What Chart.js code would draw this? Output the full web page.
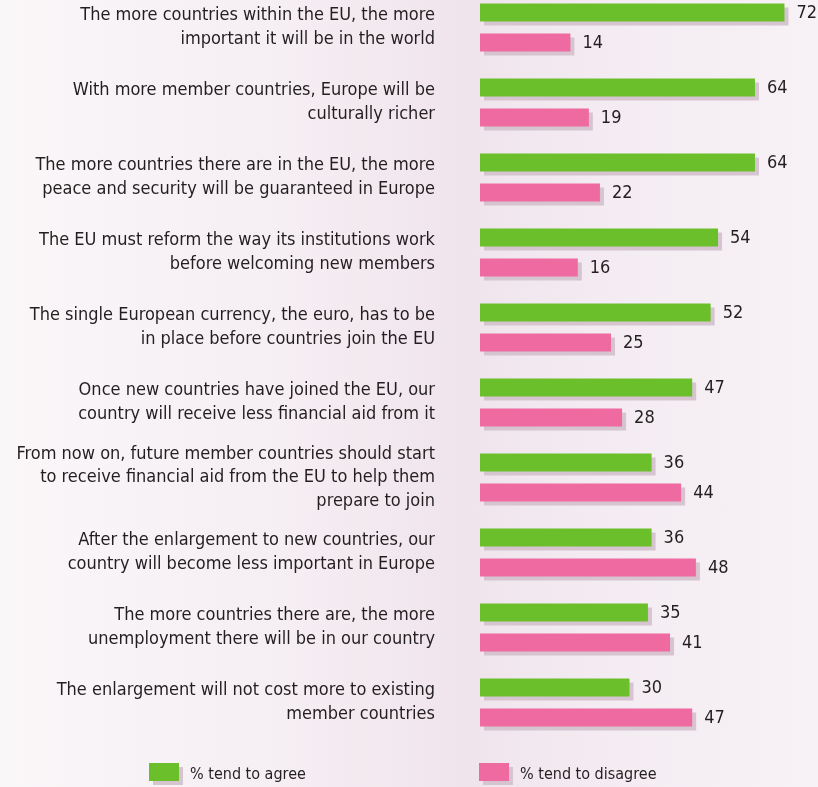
<!DOCTYPE html>
<html lang="en">
  <head>
    <meta charset="UTF-8" />
    <title>EU enlargement opinions</title>
    <script src="https://cdn.jsdelivr.net/npm/chart.js"></script>
    <style>
      html, body {
        margin: 0;
        padding: 0;
        width: 818px;
        height: 787px;
        overflow: hidden;
        background: linear-gradient(to right, #faf7f9 0%, #f5eef3 35%, #f0e4ec 57%, #f3ebf1 72%, #f7f2f6 100%);
      }
      .wrap {
        position: absolute;
        left: 0;
        top: -10px;
        width: 818px;
        height: 797px;
      }
    </style>
  </head>
  <body>
    <div class="wrap"><canvas id="barChart"></canvas></div>

    <script>
      const statements = [
        ["The more countries within the EU, the more", "important it will be in the world"],
        ["With more member countries, Europe will be", "culturally richer"],
        ["The more countries there are in the EU, the more", "peace and security will be guaranteed in Europe"],
        ["The EU must reform the way its institutions work", "before welcoming new members"],
        ["The single European currency, the euro, has to be", "in place before countries join the EU"],
        ["Once new countries have joined the EU, our", "country will receive less financial aid from it"],
        ["From now on, future member countries should start", "to receive financial aid from the EU to help them", "prepare to join"],
        ["After the enlargement to new countries, our", "country will become less important in Europe"],
        ["The more countries there are, the more", "unemployment there will be in our country"],
        ["The enlargement will not cost more to existing", "member countries"]
      ];
      const agree = [72, 64, 64, 54, 52, 47, 36, 36, 35, 30];
      const disagree = [14, 19, 22, 16, 25, 28, 44, 48, 41, 47];
      const seriesNames = ["% tend to agree", "% tend to disagree"];

      const FONT = "'Liberation Sans Narrow', 'DejaVu Sans Condensed', 'Arial Narrow', sans-serif";
      const TEXT = "#231f20";
      const SHADOW = "#d6c5d0";

      // soft offset shadow behind every bar
      const barShadow = {
        id: "barShadow",
        beforeDatasetDraw(chart) {
          const ctx = chart.ctx;
          ctx.save();
          ctx.shadowColor = SHADOW;
          ctx.shadowOffsetX = 4;
          ctx.shadowOffsetY = 4;
          ctx.shadowBlur = 0;
        },
        afterDatasetDraw(chart) {
          chart.ctx.restore();
        }
      };

      // numbers at the end of the bars
      const valueLabels = {
        id: "valueLabels",
        afterDatasetsDraw(chart) {
          const ctx = chart.ctx;
          ctx.save();
          ctx.font = "18px " + FONT;
          ctx.fillStyle = TEXT;
          ctx.textAlign = "left";
          ctx.textBaseline = "middle";
          chart.data.datasets.forEach((ds, i) => {
            chart.getDatasetMeta(i).data.forEach((bar, j) => {
              ctx.fillText(ds.data[j], bar.x + 12, bar.y + 1);
            });
          });
          ctx.restore();
        }
      };

      // legend at the bottom
      const bottomLegend = {
        id: "bottomLegend",
        afterDraw(chart) {
          const ctx = chart.ctx;
          const y = chart.height - 24;
          const xs = [149, 479];
          ctx.save();
          chart.data.datasets.forEach((ds, i) => {
            ctx.fillStyle = SHADOW;
            ctx.fillRect(xs[i] + 4, y + 4, 30, 18);
            ctx.fillStyle = ds.backgroundColor;
            ctx.fillRect(xs[i], y, 30, 18);
            ctx.font = "16px " + FONT;
            ctx.fillStyle = TEXT;
            ctx.textAlign = "left";
            ctx.textBaseline = "middle";
            ctx.fillText(ds.label, xs[i] + 41, y + 12);
          });
          ctx.restore();
        }
      };

      new Chart(document.getElementById("barChart"), {
        type: "bar",
        data: {
          labels: statements,
          datasets: [
            {
              label: seriesNames[0],
              data: agree,
              backgroundColor: "#6abf2a",
              base: -10.5
            },
            {
              label: seriesNames[1],
              data: disagree,
              backgroundColor: "#ee6aa0",
              base: -10.5
            }
          ]
        },
        options: {
          indexAxis: "y",
          responsive: true,
          maintainAspectRatio: false,
          animation: false,
          categoryPercentage: 0.8,
          barPercentage: 0.6,
          layout: {
            padding: { left: 0, right: 28, top: 0, bottom: 47 }
          },
          plugins: {
            legend: { display: false },
            tooltip: { enabled: false }
          },
          scales: {
            x: {
              display: false,
              min: -10.5,
              max: 73.5
            },
            y: {
              afterFit(scale) {
                scale.width = 480;
                scale.paddingTop = 0;
                scale.paddingBottom = 0;
              },
              border: { display: false },
              grid: { display: false, drawTicks: false },
              ticks: {
                padding: 45,
                color: TEXT,
                font: { family: FONT, size: 18, lineHeight: 1.3 }
              }
            }
          }
        },
        plugins: [barShadow, valueLabels, bottomLegend]
      });
    </script>
  </body>
</html>
